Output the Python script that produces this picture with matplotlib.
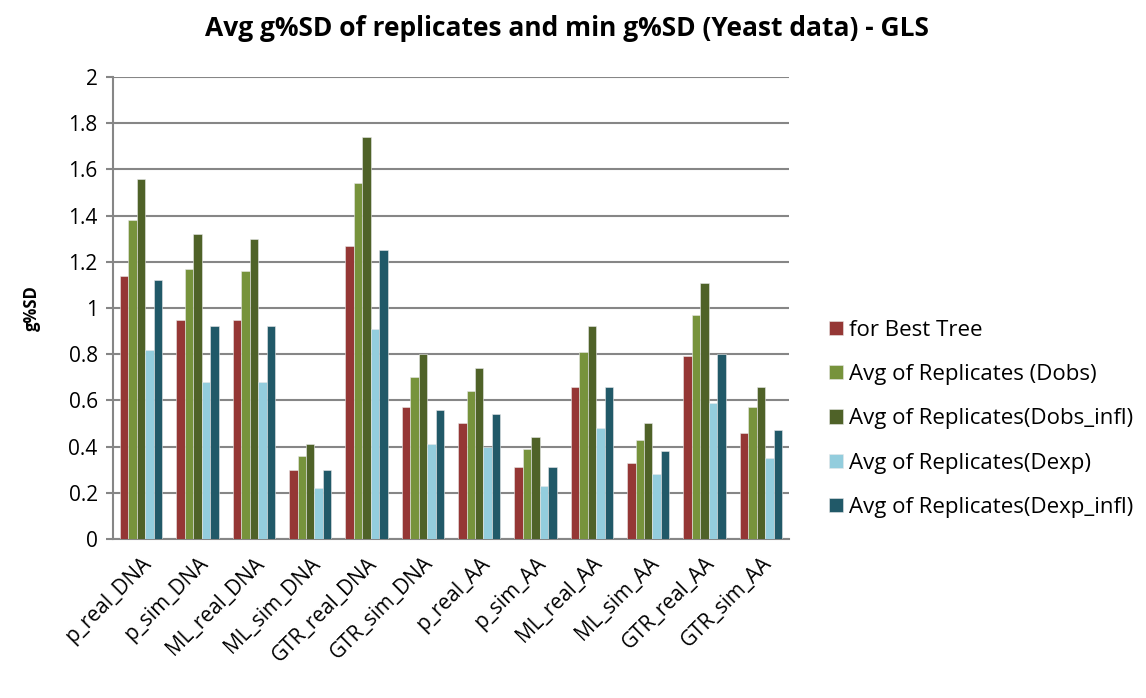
import numpy as np
import matplotlib.pyplot as plt

plt.rcParams['font.family'] = ['Open Sans', 'DejaVu Sans']

categories = ["p_real_DNA", "p_sim_DNA", "ML_real_DNA", "ML_sim_DNA", "GTR_real_DNA",
              "GTR_sim_DNA", "p_real_AA", "p_sim_AA", "ML_real_AA", "ML_sim_AA",
              "GTR_real_AA", "GTR_sim_AA"]

best_tree  = [1.14, 0.95, 0.95, 0.30, 1.27, 0.57, 0.50, 0.31, 0.66, 0.33, 0.79, 0.46]
dobs       = [1.38, 1.17, 1.16, 0.36, 1.54, 0.70, 0.64, 0.39, 0.81, 0.43, 0.97, 0.57]
dobs_infl  = [1.56, 1.32, 1.30, 0.41, 1.74, 0.80, 0.74, 0.44, 0.92, 0.50, 1.11, 0.66]
dexp       = [0.82, 0.68, 0.68, 0.22, 0.91, 0.41, 0.40, 0.23, 0.48, 0.28, 0.59, 0.35]
dexp_infl  = [1.12, 0.92, 0.92, 0.30, 1.25, 0.56, 0.54, 0.31, 0.66, 0.38, 0.80, 0.47]

series = [best_tree, dobs, dobs_infl, dexp, dexp_infl]
labels = ["for Best Tree", "Avg of Replicates (Dobs)", "Avg of Replicates(Dobs_infl)",
          "Avg of Replicates(Dexp)", "Avg of Replicates(Dexp_infl)"]
colors = ["#953735", "#77933C", "#4F6228", "#93CDDD", "#215968"]

fig = plt.figure(figsize=(11.46, 6.98), dpi=100)
ax = fig.add_axes([0.0986, 0.2278, 0.59, 0.662])

x = np.arange(len(categories))
w = 0.15
for i, (vals, lab, col) in enumerate(zip(series, labels, colors)):
    ax.bar(x + (i - 2) * w, vals, w, color=col, label=lab, zorder=3,
           edgecolor="#e8e8e8", linewidth=0.4)

ax.set_xlim(-0.5, len(categories) - 0.5)
ax.set_ylim(0, 2)
ax.set_yticks(np.arange(0, 2.01, 0.2))
ax.set_yticklabels(["0", "0.2", "0.4", "0.6", "0.8", "1", "1.2", "1.4", "1.6", "1.8", "2"])
ax.yaxis.grid(True, color="#868686", linewidth=1.5, zorder=0)
ax.set_axisbelow(True)
for s in ["top", "right"]:
    ax.spines[s].set_visible(False)
ax.spines["left"].set_color("#868686")
ax.spines["left"].set_linewidth(1.5)
ax.spines["bottom"].set_color("#868686")
ax.spines["bottom"].set_linewidth(1.5)
ax.tick_params(axis="y", labelsize=15, color="#868686", length=5, width=1.5, pad=6)
ax.tick_params(axis="x", length=0, labelsize=15, pad=10)
ax.set_xticks(x)
ax.set_xticklabels(categories, rotation=45, ha="right", rotation_mode="anchor")

ax.set_ylabel("g%SD", fontsize=12, fontweight="bold", labelpad=20)
fig.suptitle("Avg g%SD of replicates and min g%SD (Yeast data) - GLS",
             fontsize=19, fontweight="bold", x=0.495, y=0.978)

ax.legend(loc="center left", bbox_to_anchor=(1.03, 0.26), frameon=False,
          fontsize=16, handlelength=0.6, handleheight=0.6, handletextpad=0.3,
          labelspacing=1.05)

fig.savefig("out.png", dpi=100)
